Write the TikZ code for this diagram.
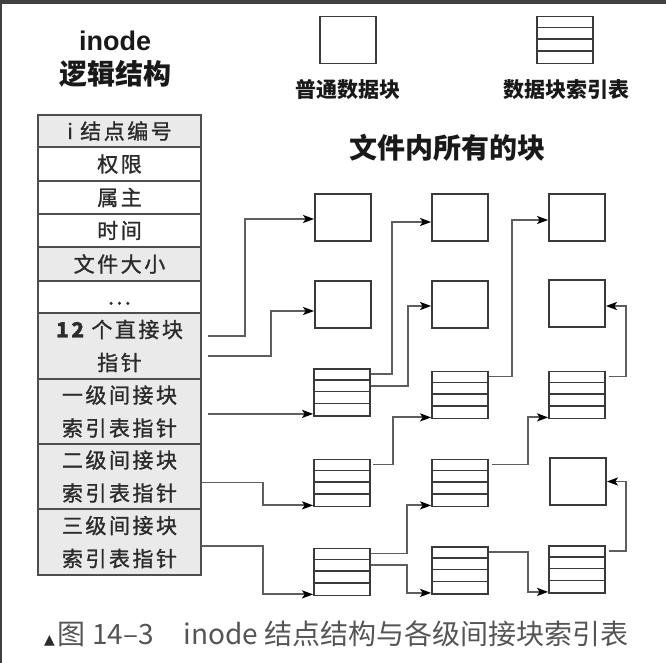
\documentclass[tikz,border=0pt]{standalone}
\usepackage{fontspec}
\usetikzlibrary{arrows.meta,calc}
\setmainfont{Liberation Sans}
\newfontfamily\cjk{Noto Sans CJK SC}
\newfontfamily\cjksp[LetterSpace=12,FakeBold=1.2]{Noto Sans CJK SC}
\newfontfamily\trifont{DejaVu Sans}
\newfontfamily\latinb{Liberation Sans}
\definecolor{framec}{HTML}{3A3A3A}
\definecolor{edgec}{HTML}{404040}
\definecolor{cellgray}{HTML}{EAEAEA}
\definecolor{ink}{HTML}{2B2B2B}
\definecolor{wirec}{HTML}{5E5E5E}
\definecolor{capgray}{HTML}{555555}
\newcommand\idxtab[3]{%
  \node[blk] (#1) at (#2,#3) {};
  \foreach \k in {1,2,3}{\draw[tabline] ($(#1.north west)+(0,\k*11.75)$) -- ++(56,0);}
}
\begin{document}
\begin{tikzpicture}[x=1pt,y=-1pt,
  cell/.style={draw=framec!90, line width=1.5pt, minimum width=163pt, inner sep=0pt,
    text=ink, font=\cjksp\fontsize{21}{33}\selectfont, align=center},
  gcell/.style={cell, fill=cellgray},
  blk/.style={draw=framec, line width=1.8pt, minimum width=56pt, minimum height=47pt, inner sep=0pt},
  tabline/.style={draw=framec, line width=1.6pt},
  wire/.style={draw=wirec, line width=1.9pt,
    -{Stealth[length=11pt,width=8pt,inset=2.5pt,color=black]}},
  titlefont/.style={font=\cjk\bfseries\fontsize{28}{28}\selectfont, text=black!90},
  legfont/.style={font=\cjk\bfseries\fontsize{21}{21}\selectfont, text=black!90}
]
\useasboundingbox (0,0) rectangle (666,663);
\fill[white] (0,0) rectangle (666,663);
\fill[edgec] (0,0) rectangle (666,4);
\fill[edgec] (0,0) rectangle (2,663);

% titles
\node[font=\latinb\bfseries\fontsize{27}{27}\selectfont, text=black!90] (ttlA) at (115,41) {inode};
\node[titlefont] (ttlB) at (115,74) {逻辑结构};
\node[titlefont] (ttlC) at (447,148) {文件内所有的块};

% legend
\node[blk] (lg1) at (348,40) {};
\idxtab{lg2}{565}{40}
\node[legfont] (lgt1) at (348,90) {普通数据块};
\node[legfont] (lgt2) at (566,90) {数据块索引表};

% inode table
\node[gcell, minimum height=32pt] (row1) at (119.5,131) {i 结点编号};
\node[cell, minimum height=34pt] (row2) at (119.5,164) {权限};
\node[cell, minimum height=33pt] (row3) at (119.5,197.5) {属主};
\node[cell, minimum height=33pt] (row4) at (119.5,230.5) {时间};
\node[gcell, minimum height=34pt] (row5) at (119.5,264) {文件大小};
\node[cell, minimum height=32pt] (row6) at (119.5,297) {\vphantom{国}...};
\node[gcell, minimum height=66pt] (row7) at (119.5,346) {{\bfseries 12} 个直接块\\指针};
\node[gcell, minimum height=65pt] (row8) at (119.5,411.5) {一级间接块\\索引表指针};
\node[gcell, minimum height=65pt] (row9) at (119.5,476.5) {二级间接块\\索引表指针};
\node[gcell, minimum height=66pt] (row10) at (119.5,542) {三级间接块\\索引表指针};

% blocks
\node[blk] (b11) at (343,217.5) {};
\node[blk] (b12) at (460,217.5) {};
\node[blk] (b13) at (577,217.5) {};
\node[blk] (b21) at (343,304.5) {};
\node[blk] (b22) at (460,304.5) {};
\node[blk] (b23) at (577,303.5) {};
\idxtab{t31}{342}{392.5}
\idxtab{t32}{460}{395}
\idxtab{t33}{577}{395}
\idxtab{t41}{342}{483}
\idxtab{t42}{460}{483}
\node[blk] (b43) at (578,481.5) {};
\idxtab{t51}{342}{572}
\idxtab{t52}{460}{570.5}
\idxtab{t53}{577}{569.5}

% arrow targets at the bottom row of tables
\coordinate (in31) at ($(t31.south west)+(0,-3)$);
\coordinate (in41) at ($(t41.south west)+(0,-2)$);
\coordinate (in51) at ($(t51.south west)+(0,-2)$);
\coordinate (in32) at ($(t32.south west)+(0,-2)$);
\coordinate (in33) at ($(t33.south west)+(0,-2)$);
\coordinate (in42) at ($(t42.south west)+(0,-2)$);
\coordinate (in52) at ($(t52.south west)+(0,-2)$);
\coordinate (in53) at ($(t53.south west)+(0,-2)$);

% connectors from inode
\draw[wire] (row7.east) ++(6,-10) -- ++(37,0) |- ($(b11.west)+(0,1.5)$);
\draw[wire] (row7.east) ++(6,10) -- ++(63,0) |- ($(b21.west)+(0,6.5)$);
\draw[wire] (in31 -| row8.east) ++(6,0) -- (in31);
\draw[wire] (row9.east) ++(0,6) -- ++(61,0) |- (in41);
\draw[wire] (row10.east) ++(0,4) -- ++(61,0) |- (in51);

% connectors between blocks
\draw[wire] ($(t31.north east)+(0,5.9)$) -- ++(21,0) |- ($(b12.west)+(0,4.5)$);
\draw[wire] ($(t31.north east)+(0,17.6)$) -- ++(37,0) |- ($(b22.west)+(0,1.5)$);
\draw[wire] ($(t32.north east)+(0,5.9)$) -- ++(23,0) |- ($(b13.west)+(0,2.5)$);
\draw[wire] ($(t33.north east)+(3,5.9)$) -- ++(17,0) |- ($(b23.east)+(0,2.5)$);
\draw[wire] ($(t41.north east)+(2,5.9)$) -- ++(20,0) |- (in32);
\draw[wire] ($(t42.north east)+(3,5.9)$) -- ++(36,0) |- (in33);
\draw[wire] ($(t51.north east)+(0,5.9)$) -- ++(36,0) |- (in42);
\draw[wire] ($(t51.north east)+(0,17.6)$) -- ++(36,0) |- (in52);
\draw[wire] ($(t52.north east)+(0,5.9)$) -- ++(39,0) |- (in53);
\draw[wire] ($(t53.north east)+(3,5.9)$) -- ++(17,0) |- (b43.east);

% caption
\node[anchor=west, inner sep=0pt, text=capgray] (cap) at (44,634)
  {{\trifont\fontsize{14}{14}\selectfont\textcolor{ink}{▲}}\hspace{3pt}{\cjk\fontsize{28}{28}\selectfont 图 14–3\hspace{30pt}inode 结点结构与各级间接块索引表}};
\end{tikzpicture}
\end{document}
